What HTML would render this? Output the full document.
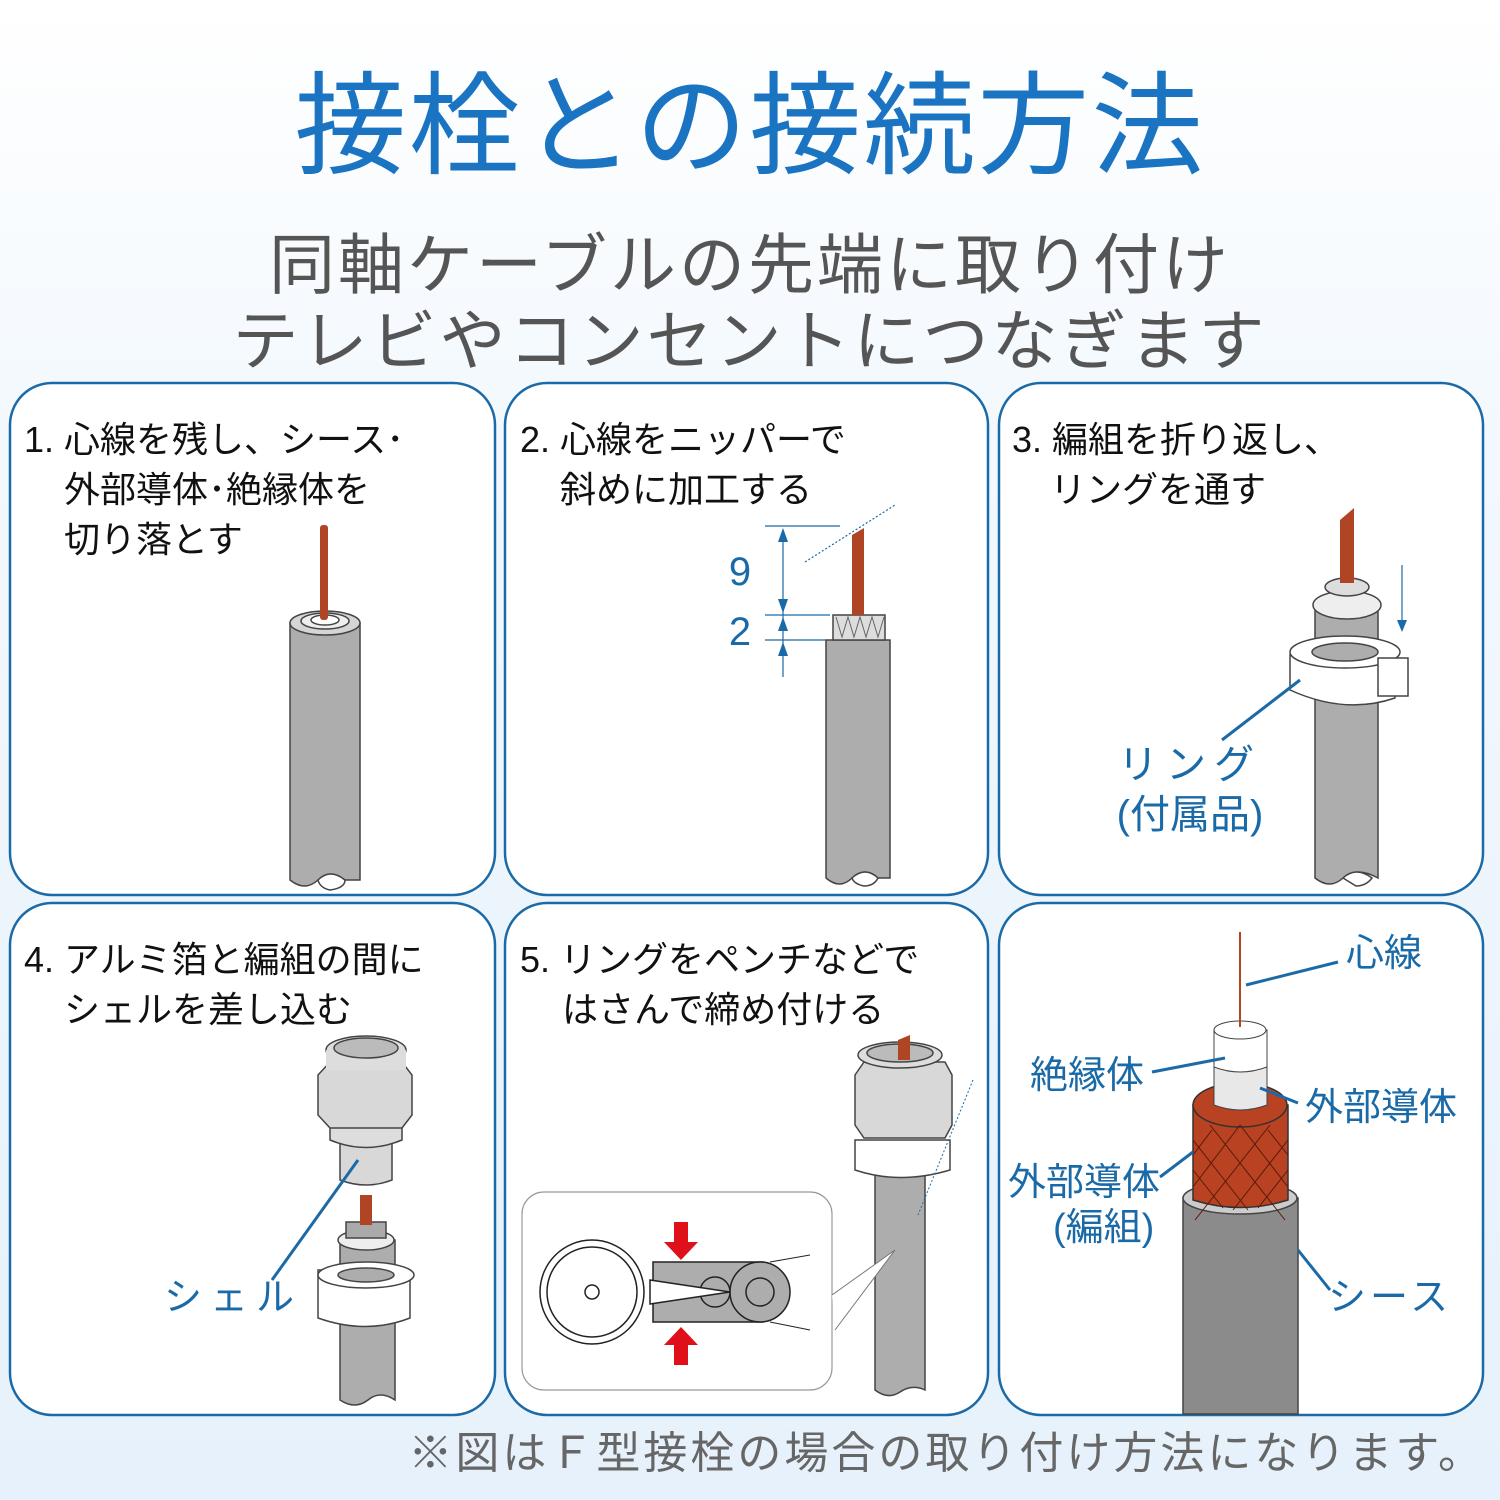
<!DOCTYPE html>
<html><head><meta charset="utf-8"><style>
html,body{margin:0;padding:0;width:1500px;height:1500px;overflow:hidden}
svg{display:block}
text{font-family:"Liberation Sans","Noto Sans CJK JP",sans-serif}
</style></head><body>
<svg width="1500" height="1500" viewBox="0 0 1500 1500" xmlns="http://www.w3.org/2000/svg">
<defs>
<linearGradient id="bg" x1="0" y1="0" x2="0" y2="1">
<stop offset="0" stop-color="#ffffff"/><stop offset="0.3" stop-color="#f2f8fd"/><stop offset="1" stop-color="#e6f1fb"/>
</linearGradient>
</defs>
<rect width="1500" height="1500" fill="url(#bg)"/>
<text x="750" y="165" text-anchor="middle" font-size="112" fill="#1a74c2" letter-spacing="2">接栓との接続方法</text>
<text x="750" y="288" text-anchor="middle" font-size="66" fill="#555" letter-spacing="3">同軸ケーブルの先端に取り付け</text>
<text x="750" y="364" text-anchor="middle" font-size="66" fill="#555" letter-spacing="3">テレビやコンセントにつなぎます</text>

<g fill="#fff" stroke="#1b6aa8" stroke-width="2.5">
<rect x="10" y="383" width="485" height="512" rx="42"/>
<rect x="505" y="383" width="483" height="512" rx="42"/>
<rect x="999" y="383" width="484" height="512" rx="42"/>
<rect x="10" y="903" width="485" height="512" rx="42"/>
<rect x="505" y="903" width="483" height="512" rx="42"/>
<rect x="999" y="903" width="484" height="512" rx="42"/>
</g>

<g font-size="36" fill="#111">
<text x="24" y="452">1. 心線を残し、シース･</text>
<text x="64" y="502">外部導体･絶縁体を</text>
<text x="64" y="552">切り落とす</text>
<text x="520" y="452">2. 心線をニッパーで</text>
<text x="560" y="502">斜めに加工する</text>
<text x="1012" y="452">3. 編組を折り返し、</text>
<text x="1050" y="502">リングを通す</text>
<text x="24" y="972">4. アルミ箔と編組の間に</text>
<text x="64" y="1022">シェルを差し込む</text>
<text x="520" y="972">5. リングをペンチなどで</text>
<text x="562" y="1022">はさんで締め付ける</text>
</g>

<!-- Panel 1 cable -->
<g stroke="#444" stroke-width="1.5">
<path d="M290 623 V880 Q305 892 318 880 Q330 868 345 880 L360 880 V623 Z" fill="#adadad"/>
<path d="M318 880 Q330 868 345 880 Q345 888 330 890 Q320 888 318 880Z" fill="#fff"/>
<ellipse cx="325" cy="623" rx="35" ry="12" fill="#d5d5d5"/>
<ellipse cx="325" cy="621" rx="24" ry="8" fill="#eee"/>
<ellipse cx="325" cy="620" rx="14" ry="5" fill="#fff"/>
</g>
<rect x="320" y="525" width="8" height="95" rx="3" fill="#b04525"/>

<!-- Panel 2 -->
<g stroke="#444" stroke-width="1.5">
<path d="M826 640 V878 Q840 890 852 878 Q865 866 878 878 L890 878 V640 Z" fill="#adadad"/>
<path d="M852 878 Q865 866 878 878 Q874 886 864 886 Q854 884 852 878Z" fill="#fff"/>
<rect x="833" y="615" width="52" height="25" fill="#ddd"/>
</g>
<path d="M836 617 l6 20 l6 -20 l6 20 l6 -20 l6 20 l6 -20 l6 20 l6 -20" stroke="#666" fill="none" stroke-width="1"/>
<path d="M852 615 V535 L864 528 V615 Z" fill="#b04525"/>
<g stroke="#1b6aa8" stroke-width="1.2" fill="none">
<line x1="765" y1="526" x2="840" y2="526"/><line x1="765" y1="615" x2="830" y2="615"/>
<line x1="765" y1="640" x2="826" y2="640"/>
<line x1="783" y1="530" x2="783" y2="677"/>
<line x1="805" y1="562" x2="895" y2="505" stroke-dasharray="2,2"/>
</g>
<g fill="#1b6aa8">
<path d="M783 528 l-5 14 h10z"/><path d="M783 613 l-5 -14 h10z"/>
<path d="M783 617 l-5 14 h10z"/><path d="M783 642 l5 14 h-10z"/>
</g>
<text x="740" y="585" font-size="40" fill="#1b6aa8" text-anchor="middle">9</text>
<text x="740" y="645" font-size="40" fill="#1b6aa8" text-anchor="middle">2</text>

<!-- Panel 3 -->
<g stroke="#444" stroke-width="1.5">
<path d="M1315 610 V878 Q1330 890 1343 878 Q1356 866 1378 878 V610 Z" fill="#adadad"/>
<path d="M1343 878 Q1356 866 1372 878 Q1366 886 1356 886Z" fill="#fff"/>
<ellipse cx="1347" cy="605" rx="34" ry="14" fill="#eee"/>
<ellipse cx="1347" cy="587" rx="22" ry="9" fill="#ddd"/>
<path d="M1290 655 V690 Q1345 715 1395 698 V650 Z" fill="#fff"/>
<ellipse cx="1345" cy="652" rx="55" ry="16" fill="#fff"/>
<ellipse cx="1345" cy="652" rx="33" ry="9" fill="#adadad"/>
<rect x="1378" y="658" width="30" height="38" fill="#fff"/>
</g>
<path d="M1340 520 V583 H1354 V508 Z" fill="#b04525"/>
<line x1="1402" y1="565" x2="1402" y2="625" stroke="#1b6aa8" stroke-width="1.2"/>
<path d="M1402 632 l-5 -12 h10z" fill="#1b6aa8"/>
<line x1="1300" y1="680" x2="1222" y2="740" stroke="#1b6aa8" stroke-width="3"/>
<text x="1190" y="778" font-size="40" fill="#1b6aa8" text-anchor="middle" letter-spacing="8">リング</text>
<text x="1190" y="828" font-size="40" fill="#1b6aa8" text-anchor="middle">(付属品)</text>

<!-- Panel 4 -->
<g stroke="#444" stroke-width="1.5">
<path d="M340 1240 V1400 Q355 1410 368 1400 Q380 1390 395 1400 V1240Z" fill="#adadad"/>
<ellipse cx="366" cy="1240" rx="28" ry="10" fill="#eee"/>
<rect x="346" y="1222" width="40" height="16" fill="#aaa"/>
<path d="M318 1270 V1318 Q366 1335 410 1318 V1270Z" fill="#fff"/>
<ellipse cx="366" cy="1275" rx="48" ry="13" fill="#fff"/>
<ellipse cx="366" cy="1275" rx="28" ry="7" fill="#adadad"/>
<path d="M340 1140 V1180 Q366 1190 392 1180 V1140Z" fill="#d8d8d8"/>
<path d="M330 1090 V1140 Q366 1155 402 1140 V1090Z" fill="#ddd"/>
<path d="M318 1075 L330 1062 H402 L412 1075 V1115 L402 1128 H330 L318 1115Z" fill="#d8d8d8"/>
<ellipse cx="366" cy="1050" rx="40" ry="14" fill="#ddd"/>
<rect x="326" y="1050" width="80" height="20" fill="#ddd" stroke="none"/>
<ellipse cx="366" cy="1048" rx="32" ry="10" fill="#bbb"/>
</g>
<rect x="360" y="1195" width="12" height="30" fill="#b04525"/>
<line x1="358" y1="1160" x2="272" y2="1280" stroke="#1b6aa8" stroke-width="3"/>
<text x="233" y="1310" font-size="38" fill="#1b6aa8" text-anchor="middle" letter-spacing="8">シェル</text>

<!-- Panel 5 -->
<g stroke="#444" stroke-width="1.5">
<path d="M875 1160 V1390 Q888 1400 900 1392 Q912 1384 925 1390 V1160Z" fill="#adadad"/>
<path d="M855 1140 V1170 Q900 1185 950 1170 V1140Z" fill="#fff"/>
<path d="M855 1075 L864 1062 H945 L952 1075 V1125 L945 1138 H864 L855 1125Z" fill="#d8d8d8"/>
<ellipse cx="900" cy="1055" rx="42" ry="13" fill="#ddd"/>
<ellipse cx="900" cy="1053" rx="33" ry="9" fill="#bbb"/>
</g>
<path d="M898 1060 V1040 L910 1035 V1060Z" fill="#b04525"/>
<line x1="973" y1="1080" x2="918" y2="1215" stroke="#1b6aa8" stroke-width="1" stroke-dasharray="2,2"/>
<rect x="522" y="1192" width="310" height="198" rx="22" fill="#fff" stroke="#999" stroke-width="1.2"/>
<path d="M832 1295 L895 1250 L835 1330" fill="#fff" stroke="#777" stroke-width="1"/>
<g stroke="#222" stroke-width="1.5">
<rect x="653" y="1262" width="110" height="60" fill="#adadad"/>
<circle cx="760" cy="1292" r="30" fill="#adadad"/>
<circle cx="760" cy="1292" r="14" fill="#adadad"/>
<circle cx="715" cy="1292" r="15" fill="#adadad"/>
<path d="M650 1280 L730 1292 L650 1304 Z" fill="#fff"/>
<circle cx="592" cy="1292" r="52" fill="#fff"/>
<circle cx="592" cy="1292" r="45" fill="#fff"/>
<circle cx="592" cy="1292" r="7" fill="#fff"/>
</g>
<path d="M770 1262 L810 1255 M770 1322 L810 1330" stroke="#222" stroke-width="1"/>
<path d="M674 1222 h14 v20 h10 l-17 18 l-17 -18 h10z" fill="#e0101a"/>
<path d="M674 1365 h14 v-20 h10 l-17 -18 l-17 18 h10z" fill="#e0101a"/>

<!-- Panel 6 -->
<rect x="1183" y="1198" width="115" height="216" fill="#8b8b8b" stroke="#444" stroke-width="1.5"/>
<ellipse cx="1240" cy="1198" rx="57" ry="16" fill="#ccc" stroke="#444" stroke-width="1.5"/>
<path d="M1193 1105 V1200 Q1240 1215 1288 1200 V1105Z" fill="#b84222" stroke="#333" stroke-width="1.5"/>
<ellipse cx="1240" cy="1105" rx="47" ry="22" fill="#b84222" stroke="#333" stroke-width="1.5"/>
<g stroke="#5a1a0a" stroke-width="1" fill="none">
<path d="M1193 1140 l55 70 M1193 1170 l30 38 M1210 1125 l75 95 M1240 1125 l48 62 M1268 1130 l20 25"/>
<path d="M1288 1140 l-55 70 M1288 1170 l-30 38 M1270 1125 l-75 95 M1240 1125 l-47 62 M1212 1130 l-19 25"/>
</g>
<path d="M1214 1065 V1105 Q1240 1115 1267 1105 V1065Z" fill="#e8e8e8" stroke="#444" stroke-width="1"/>
<path d="M1214 1030 V1067 Q1240 1077 1267 1067 V1030Z" fill="#fff" stroke="#444" stroke-width="1"/>
<ellipse cx="1240" cy="1030" rx="26" ry="9" fill="#fff" stroke="#444" stroke-width="1"/>
<line x1="1240" y1="932" x2="1240" y2="1027" stroke="#b04525" stroke-width="2"/>
<g stroke="#1b6aa8" stroke-width="3">
<line x1="1246" y1="985" x2="1338" y2="962"/>
<line x1="1152" y1="1072" x2="1225" y2="1058"/>
<line x1="1260" y1="1088" x2="1298" y2="1103"/>
<line x1="1160" y1="1177" x2="1193" y2="1152"/>
<line x1="1298" y1="1250" x2="1330" y2="1290"/>
</g>
<g font-size="38" fill="#1b6aa8">
<text x="1346" y="966">心線</text>
<text x="1030" y="1088">絶縁体</text>
<text x="1305" y="1120">外部導体</text>
<text x="1008" y="1195">外部導体</text>
<text x="1053" y="1240">(編組)</text>
<text x="1328" y="1310" letter-spacing="4">シース</text>
</g>

<text x="1485" y="1468" text-anchor="end" font-size="44" fill="#666" letter-spacing="3">※図はＦ型接栓の場合の取り付け方法になります。</text>
</svg>
</body></html>
